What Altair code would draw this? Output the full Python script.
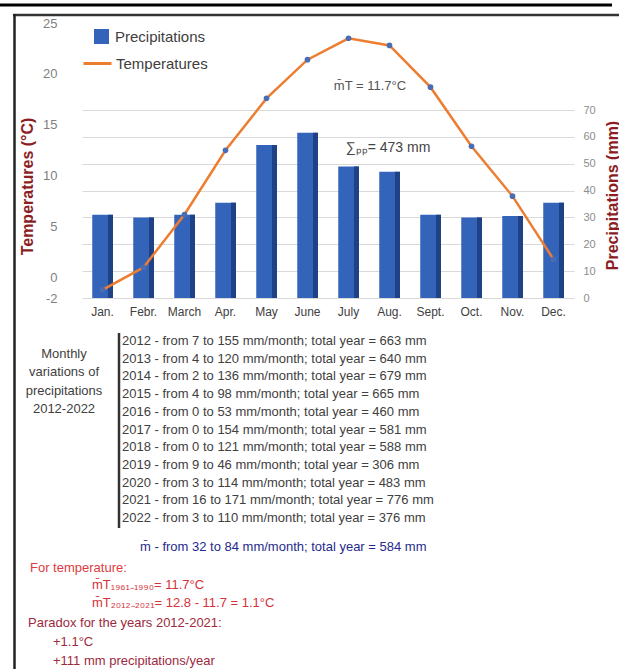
import altair as alt
import pandas as pd

# ---------------- data ----------------
months = ["Jan.", "Febr.", "March", "Apr.", "May", "June", "July", "Aug.", "Sept.", "Oct.", "Nov.", "Dec."]
precip = [31, 30, 31, 35.5, 57, 61.5, 49, 47, 31, 30, 30.5, 35.5]
temps = [-1.2, 1.0, 6.2, 12.5, 17.6, 21.4, 23.5, 22.8, 18.7, 12.9, 8.0, 1.8]
temp_ticks = [-2, 0, 5, 10, 15, 20, 25]
precip_ticks = [0, 10, 20, 30, 40, 50, 60, 70]

mean_temp_label = "m\u0304T = 11.7\u00b0C"
sum_pp_label = "\u2211\u209a\u209a= 473 mm"

left_block = ["Monthly", "variations of", "precipitations", "2012-2022"]
year_lines = [
    "2012 - from 7 to 155 mm/month; total year = 663 mm",
    "2013 - from 4 to 120 mm/month; total year = 640 mm",
    "2014 - from 2 to 136 mm/month; total year = 679 mm",
    "2015 - from 4 to 98 mm/month; total year = 665 mm",
    "2016 - from 0 to 53 mm/month; total year = 460 mm",
    "2017 - from 0 to 154 mm/month; total year = 581 mm",
    "2018 - from 0 to 121 mm/month; total year = 588 mm",
    "2019 - from 9 to 46 mm/month; total year = 306 mm",
    "2020 - from 3 to 114 mm/month; total year = 483 mm",
    "2021 - from 16 to 171 mm/month; total year = 776 mm",
    "2022 - from 3 to 110 mm/month; total year = 376 mm",
]
mean_line = "m\u0304 - from 32 to 84 mm/month; total year = 584 mm"
temp_head = "For temperature:"
temp_notes = [
    "m\u0304T\u2081\u2089\u2086\u2081\u208b\u2081\u2089\u2089\u2080= 11.7\u00b0C",
    "m\u0304T\u2082\u2080\u2081\u2082\u208b\u2082\u2080\u2082\u2081= 12.8 - 11.7 = 1.1\u00b0C",
]
paradox_head = "Paradox for the years 2012-2021:"
paradox_lines = ["+1.1\u00b0C", "+111 mm precipitations/year"]

df = pd.DataFrame({"month": months, "precip": precip, "temp": temps})

# ---------------- layout ----------------
PL, PT, W, H = 82, 23, 492, 275
TOTAL_W, TOTAL_H = 619, 669
FONT = "Liberation Sans"


def ax(v):
    return alt.value(v - PL)


def ay(v):
    return alt.value(v - PT)


xscale = alt.Scale(domain=months, paddingInner=0.5, paddingOuter=0.25)
xenc = alt.X("month:N", sort=months, scale=xscale,
             axis=alt.Axis(title=None, labelAngle=0, ticks=False, domain=False,
                           labelFontSize=12, labelColor="#404040", labelPadding=8,
                           labelFont=FONT))

pscale = alt.Scale(domain=[0, 102.4], nice=False, zero=True)
paxis = alt.Axis(orient="right", values=precip_ticks, grid=True, gridColor="#d9d9d9",
                 ticks=False, domain=False, labelFontSize=11, labelColor="#8c8c8c",
                 labelPadding=9, labelFont=FONT,
                 title="Precipitations (mm)", titleFontSize=16, titleFontWeight="bold",
                 titleColor="#8b1e24", titleAngle=270, titleX=38, titleY=172,
                 titleAlign="center", titleBaseline="middle", titleFont=FONT)

tscale = alt.Scale(domain=[-2, 25], nice=False, zero=False)
taxis = alt.Axis(orient="left", values=temp_ticks, grid=False, ticks=False, domain=False,
                 labelFontSize=13, labelColor="#7f7f7f", labelPadding=25, labelFont=FONT,
                 labelExpr="replace(datum.label, '\u2212', '-')",
                 title="Temperatures (\u00b0C)", titleFontSize=16, titleFontWeight="bold",
                 titleColor="#8b1e24", titleAngle=270, titleX=-55, titleY=163,
                 titleAlign="center", titleBaseline="middle", titleFont=FONT)

base = alt.Chart(df)

bars = base.mark_bar().encode(
    x=xenc,
    y=alt.Y("precip:Q", scale=pscale, axis=paxis),
    fill=alt.Fill("series:N",
                  scale=alt.Scale(domain=["Precipitations"], range=["#3464b9"]),
                  legend=alt.Legend(orient="none", legendX=11, legendY=5, title=None,
                                    symbolType="square", symbolSize=225, labelFontSize=15,
                                    labelColor="#404040", labelFont=FONT, labelOffset=5,
                                    padding=0)),
).transform_calculate(series="'Precipitations'")

bars_side = base.mark_bar(size=5, xOffset=8, color="#1f4286").encode(
    x=xenc,
    y=alt.Y("precip:Q", scale=pscale, axis=paxis),
)

line = base.mark_line(strokeWidth=2.5).encode(
    x=xenc,
    y=alt.Y("temp:Q", scale=tscale, axis=taxis),
    stroke=alt.Stroke("tseries:N",
                      scale=alt.Scale(domain=["Temperatures"], range=["#ed7d31"]),
                      legend=alt.Legend(orient="none", legendX=0, legendY=25, title=None,
                                        symbolType="stroke", symbolSize=784,
                                        symbolStrokeWidth=3, labelFontSize=15,
                                        labelColor="#404040", labelFont=FONT,
                                        labelOffset=3, padding=0)),
).transform_calculate(tseries="'Temperatures'")

points = base.mark_point(filled=True, size=32, color="#4a6cb3", opacity=1).encode(
    x=xenc,
    y=alt.Y("temp:Q", scale=tscale, axis=taxis),
)

one = alt.Data(values=[{"k": 0}])


def txt(s, x, y, size=13, color="#404040", align="left", baseline="middle", **kw):
    return alt.Chart(one).mark_text(align=align, baseline=baseline, fontSize=size,
                                    color=color, font=FONT, **kw).encode(
        x=ax(x), y=ay(y), text=alt.value(s))


def rule(x1, x2, y1, y2, color, width):
    return alt.Chart(one).mark_rule(color=color, strokeWidth=width).encode(
        x=ax(x1), x2=ax(x2), y=ay(y1), y2=ay(y2))


annots = [
    txt(mean_temp_label, 370, 86, size=13, color="#555555", align="center"),
    txt(sum_pp_label, 388, 148, size=14, color="#444444", align="center"),
    # frame
    rule(0, 612, 5, 5, "#000000", 3),
    rule(13, 619, 15, 15, "#333333", 2.5),
    rule(14.5, 14.5, 14, 669, "#222222", 2.5),
    # text block
    txt("\n".join(left_block), 64, 348, size=13, color="#404040", align="center",
        baseline="top", lineBreak="\n", lineHeight=18.3),
    rule(119, 119, 333, 528, "#333333", 2.5),
    txt("\n".join(year_lines), 122, 335, size=13, color="#404040", baseline="top",
        lineBreak="\n", lineHeight=17.7),
    txt(mean_line, 140, 547, size=13, color="#1f2a8c"),
    txt(temp_head, 30, 568, size=13, color="#dd3b3f"),
    txt(temp_notes[0], 92, 585, size=13, color="#d4323a"),
    txt(temp_notes[1], 92, 603, size=13, color="#d4323a"),
    txt(paradox_head, 28, 623, size=13, color="#9c2a3d"),
    txt(paradox_lines[0], 53, 642, size=13, color="#9c2a3d"),
    txt(paradox_lines[1], 53, 661, size=13, color="#9c2a3d"),
]

precip_layer = alt.layer(bars, bars_side)
temp_layer = alt.layer(line, points)

chart = alt.layer(precip_layer, temp_layer, *annots).resolve_scale(
    y="independent"
).properties(
    width=W, height=H,
    padding={"left": PL, "top": PT, "right": TOTAL_W - PL - W, "bottom": TOTAL_H - PT - H},
    autosize=alt.AutoSizeParams(type="none"),
    background="white",
).configure_view(stroke=None)

chart.save("out.html", embed_options={"renderer": "svg", "actions": False})
